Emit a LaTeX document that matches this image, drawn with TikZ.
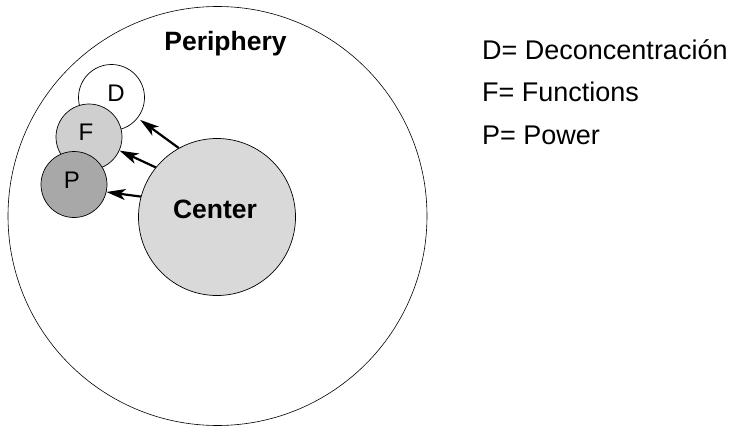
\documentclass[tikz,border=0pt]{standalone}
\usepackage{fontspec}
\setmainfont{Liberation Sans}
\usetikzlibrary{arrows.meta}
\begin{document}
\begin{tikzpicture}[x=1pt,y=-1pt,
  txt/.style={font=\fontsize{27}{27}\selectfont, inner sep=0pt},
  btxt/.style={font=\fontsize{26.5}{26.5}\selectfont\bfseries, inner sep=0pt},
  ring/.style={circle, draw=black, line width=0.7pt, inner sep=0pt},
  small/.style={ring, minimum size=66pt},
  lbl/.style={font=\fontsize{24}{24}\selectfont, inner sep=0pt},
  arr/.style={line width=2.2pt, -{Stealth[length=19pt,width=11pt,inset=5pt]}}
]
\useasboundingbox (0,0) rectangle (729,428);
% periphery
\node[ring, minimum size=419pt, line width=0.6pt] (Per) at (217.5,216) {};
\node[btxt, anchor=base] (PerL) at (225.5,51) {Periphery};
% center
\node[ring, minimum size=157pt, fill=gray!30] (C) at (217,217) {};
\node[btxt, anchor=base] (CL) at (215,218) {Center};
% D F P
\node[small, fill=white] (D) at (111.5,97.5) {};
\node[small, fill=gray!38] (F) at (89,137) {};
\node[small, fill=gray!68] (P) at (74,184.5) {};
\node[lbl] (DL) at (116,93) {D};
\node[lbl] (FL) at (86,132) {F};
\node[lbl] (PL) at (72,180) {P};
% arrows
\draw[arr] (C.119) -- ([shift={(-38:3pt)}]D.-38);
\draw[arr] (C.141.7) -- (F.-24);
\draw[arr] (C.165) -- (P.-13);
% legend
\node[txt, anchor=base west] (L1) at (482,60) {D= Deconcentración};
\node[txt, anchor=base west] (L2) at (482,102) {F= Functions};
\node[txt, anchor=base west] (L3) at (482,144) {P= Power};
\end{tikzpicture}
\end{document}
